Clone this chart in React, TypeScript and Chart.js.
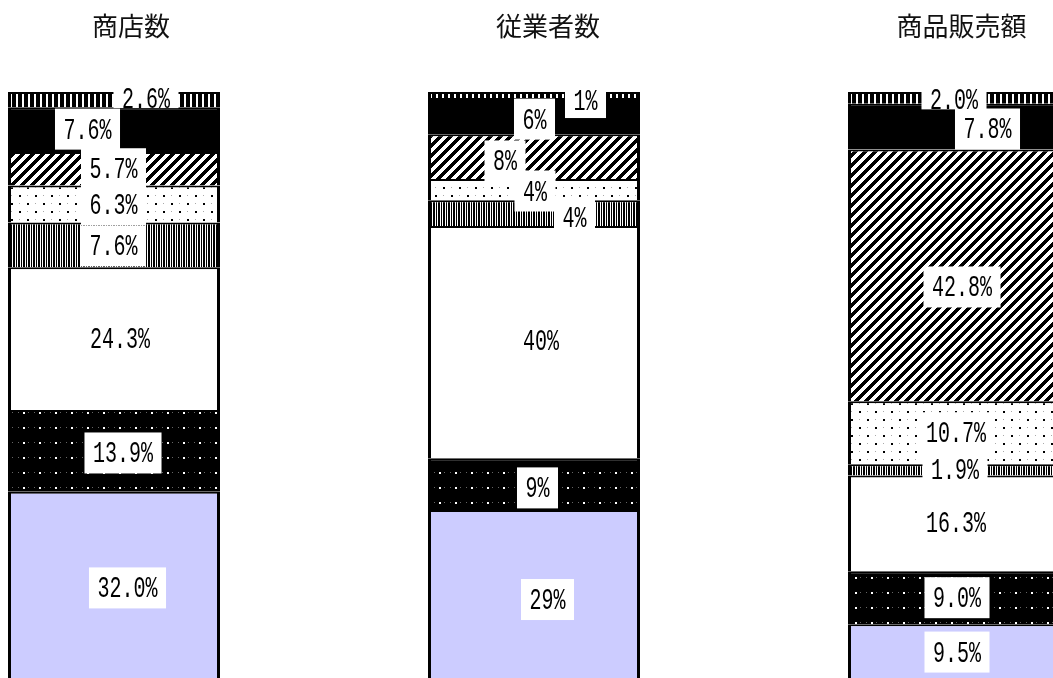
import React, { useEffect, useRef } from 'react';
import { Chart, registerables } from 'chart.js';

Chart.register(...registerables);

// Categories (one stacked 100% bar each)
const CATEGORIES = ['商店数', '従業者数', '商品販売額'];

// Shares per bar, listed from the bottom segment to the top segment
const STORES = [32.0, 13.9, 24.3, 7.6, 6.3, 5.7, 7.6, 2.6];
const EMPLOYEES = [28.9, 8.8, 39.5, 4.4, 3.6, 7.6, 6.2, 1.0];
const SALES = [9.5, 9.0, 16.3, 1.9, 10.7, 42.8, 7.8, 2.0];

// Data label texts, same order
const STORES_LABELS = ['32.0%', '13.9%', '24.3%', '7.6%', '6.3%', '5.7%', '7.6%', '2.6%'];
const EMPLOYEES_LABELS = ['29%', '9%', '40%', '4%', '4%', '8%', '6%', '1%'];
const SALES_LABELS = ['9.5%', '9.0%', '16.3%', '1.9%', '10.7%', '42.8%', '7.8%', '2.0%'];

// ---- layout / style (not data) ----
// label offsets [dx, dy] from each segment centre
const LABEL_OFFSETS = [
  [[13.5, 2], [9, 2], [6, -0.5], [-0.5, 1], [-0.5, 0.5], [-0.5, 0], [-26.5, -0.5], [32, -1]],
  [[13.5, 4.5], [3.5, 3.7], [7, -2], [40.5, 4.3], [1, 1.4], [-29, 4.3], [0.5, 3], [51.5, 5.6]],
  [[3, 0], [3, 0], [2, -1], [1, 0], [2, 0], [8, 11.5], [33.5, 2.3], [0, 2]],
];
// box extent below label centre for the top segment's label of each bar
const TOP_BOX_BELOW = [9.5, 17.5, 9.5];
const TITLE_DX = [17, 14, 7.5];

function tile(w: number, h: number, draw: (c: CanvasRenderingContext2D) => void): CanvasPattern | string {
  const cv = document.createElement('canvas');
  cv.width = w;
  cv.height = h;
  const c = cv.getContext('2d')!;
  draw(c);
  return c.createPattern(cv, 'repeat') || '#888';
}

function makeFills(): (CanvasPattern | string)[] {
  const lavender = '#CCCCFF';
  const darkDots = tile(16, 15, (c) => {
    c.fillStyle = '#000';
    c.fillRect(0, 0, 16, 15);
    c.fillStyle = '#fff';
    c.fillRect(7, 7, 2, 2);
    c.fillStyle = '#666';
    c.fillRect(2, 7, 1, 1);
    c.fillRect(12, 7, 1, 1);
  });
  const white = '#FFFFFF';
  const fineStripes = tile(5, 1, (c) => {
    c.fillStyle = '#fff';
    c.fillRect(0, 0, 5, 1);
    c.fillStyle = '#000';
    c.fillRect(0, 0, 1, 1);
    c.fillRect(2, 0, 1, 1);
    c.fillRect(4, 0, 1, 1);
  });
  const lightDots = tile(16, 16, (c) => {
    c.fillStyle = '#fff';
    c.fillRect(0, 0, 16, 16);
    c.fillStyle = '#000';
    c.fillRect(3, 3, 2, 2);
    c.fillRect(11, 11, 2, 2);
    c.fillStyle = '#aaa';
    c.fillRect(11, 3, 1, 1);
    c.fillRect(3, 11, 1, 1);
  });
  const hatch = tile(10, 10, (c) => {
    const img = c.createImageData(10, 10);
    for (let y = 0; y < 10; y++) {
      for (let x = 0; x < 10; x++) {
        const v = (x + y) % 10;
        const on = v < 5;
        const g = on ? 0 : 255;
        const i = (y * 10 + x) * 4;
        img.data[i] = g;
        img.data[i + 1] = g;
        img.data[i + 2] = g;
        img.data[i + 3] = 255;
      }
    }
    c.putImageData(img, 0, 0);
  });
  const black = '#000000';
  const coarseStripes = tile(6, 1, (c) => {
    c.fillStyle = '#000';
    c.fillRect(0, 0, 6, 1);
    c.fillStyle = '#fff';
    c.fillRect(4, 0, 2, 1);
  });
  return [lavender, darkDots, white, fineStripes, lightDots, hatch, black, coarseStripes];
}

const LABEL_FONT = '29px "Liberation Mono", "DejaVu Sans Mono", monospace';
const LABEL_SX = 0.69;

const labelPlugin = {
  id: 'boxLabels',
  afterDatasetsDraw(chart: any) {
    const ctx: CanvasRenderingContext2D = chart.ctx;
    const labelSets = [STORES_LABELS, EMPLOYEES_LABELS, SALES_LABELS];
    const n = chart.data.datasets.length;
    ctx.save();
    ctx.font = LABEL_FONT;
    for (let i = 0; i < n; i++) {
      const meta = chart.getDatasetMeta(i);
      meta.data.forEach((el: any, j: number) => {
        const text = labelSets[j][i];
        const [dx, dy] = LABEL_OFFSETS[j][i];
        const cx = el.x + dx;
        const cy = (el.y + el.base) / 2 + dy;
        const w = ctx.measureText(text).width * LABEL_SX;
        const above = 20.5;
        const below = i === n - 1 ? TOP_BOX_BELOW[j] : 20.5;
        ctx.fillStyle = '#fff';
        ctx.fillRect(cx - w / 2 - 8.5, cy - above, w + 17, above + below);
        ctx.save();
        ctx.translate(cx, cy + 9.5);
        ctx.scale(LABEL_SX, 1);
        ctx.fillStyle = '#000';
        ctx.textAlign = 'center';
        ctx.textBaseline = 'alphabetic';
        ctx.fillText(text, 0, 0);
        ctx.restore();
      });
    }
    ctx.restore();
  },
};

const titlePlugin = {
  id: 'barTitles',
  afterDraw(chart: any) {
    const ctx: CanvasRenderingContext2D = chart.ctx;
    const meta = chart.getDatasetMeta(0);
    ctx.save();
    ctx.font = '26px "Noto Sans CJK JP", "Noto Sans CJK SC", sans-serif';
    ctx.fillStyle = '#111';
    ctx.textAlign = 'center';
    ctx.textBaseline = 'middle';
    meta.data.forEach((el: any, j: number) => {
      ctx.fillText(chart.data.labels[j], el.x + TITLE_DX[j], 26);
    });
    ctx.restore();
  },
};

export default function App() {
  const ref = useRef<HTMLCanvasElement>(null);

  useEffect(() => {
    if (!ref.current) return;
    const fills = makeFills();
    const datasets = fills.map((fill, i) => ({
      label: `s${i + 1}`,
      data: [STORES[i], EMPLOYEES[i], SALES[i]],
      backgroundColor: fill as any,
      borderColor: '#000',
      borderWidth: { top: 2, left: 3, right: 3, bottom: 0 },
      borderSkipped: false as any,
      barThickness: 212,
      inflateAmount: 0,
    }));
    const chart = new Chart(ref.current, {
      type: 'bar',
      data: { labels: CATEGORIES, datasets },
      options: {
        animation: false,
        responsive: false,
        devicePixelRatio: 1,
        layout: { padding: { top: 92, bottom: 0, left: 0, right: 0 } },
        plugins: {
          legend: { display: false },
          tooltip: { enabled: false },
          title: { display: false },
        },
        scales: {
          x: { stacked: true, display: false, offset: true, grid: { display: false } },
          y: { stacked: true, display: false, min: 0, max: 100, grid: { display: false } },
        },
      },
      plugins: [labelPlugin, titlePlugin],
    });
    return () => chart.destroy();
  }, []);

  return (
    <div
      style={{
        position: 'fixed',
        left: 0,
        top: 0,
        width: 1053,
        height: 678,
        overflow: 'hidden',
        background: '#fff',
      }}
    >
      <canvas
        ref={ref}
        width={1260}
        height={680}
        style={{ position: 'absolute', left: -96, top: 0, display: 'block' }}
      />
    </div>
  );
}
